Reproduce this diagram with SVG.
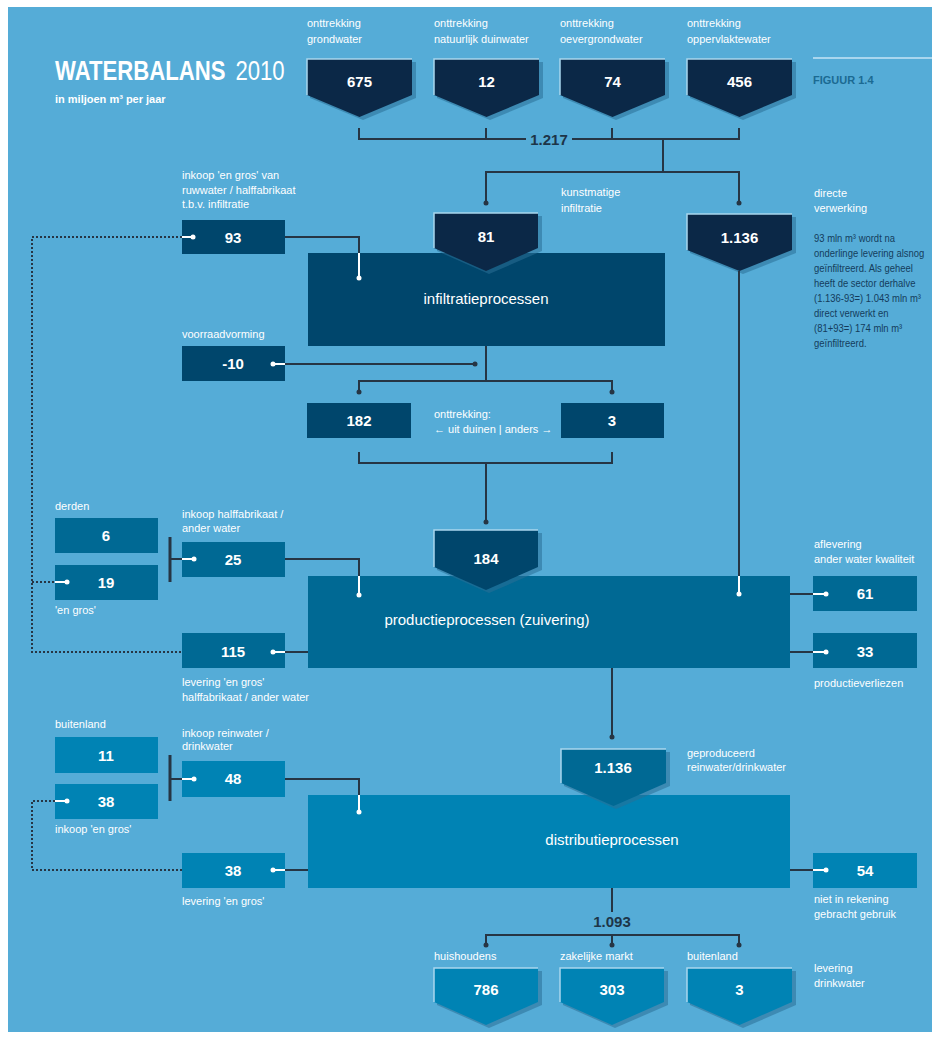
<svg xmlns="http://www.w3.org/2000/svg" width="932" height="1039" viewBox="0 0 932 1039">
<defs>
<style>
.t{font-family:"Liberation Sans Narrow","Liberation Sans",Arial,sans-serif;}
.lbl{font-family:"Liberation Sans Narrow","Liberation Sans",Arial,sans-serif;font-size:11px;fill:#ffffff;}
.par{font-family:"Liberation Sans Narrow","Liberation Sans",Arial,sans-serif;font-size:11px;fill:#143c5c;}
.num{font-family:"Liberation Sans Narrow","Liberation Sans",Arial,sans-serif;font-size:15px;font-weight:bold;fill:#ffffff;text-anchor:middle;}
.proc{font-family:"Liberation Sans","Open Sans",Arial,sans-serif;font-size:15px;fill:#ffffff;text-anchor:middle;}
.navy{fill:#0b2847;}
.dk{fill:#00466c;}
.md{fill:#006994;}
.lt{fill:#0083b4;}
.sh{fill:#2a6f95;opacity:0.55;}
.hl{fill:none;stroke:#a9d6ee;stroke-width:1.5;}
.ln{fill:none;stroke:#263544;stroke-width:2;}
.wl{fill:none;stroke:#ffffff;stroke-width:2;}
.dot{fill:#263544;}
.wdot{fill:#ffffff;}
.dash{fill:none;stroke:#263544;stroke-width:2;stroke-dasharray:2 2;}
.bar{fill:none;stroke:#263544;stroke-width:3;}
</style>
</defs>
<rect x="8" y="7" width="924" height="1025" fill="#55acd7"/>

<g id="title">
<g transform="translate(55,80) scale(0.82,1)">
<text class="t" x="0" y="0" font-size="27" font-weight="bold" fill="#ffffff">WATERBALANS</text>
<text class="t" x="220" y="0" font-size="27" fill="#ffffff">2010</text>
</g>
<text class="t" x="55" y="103" font-size="11" font-weight="bold" fill="#ffffff">in miljoen m³ per jaar</text>
</g>
<g id="figuur">
<line x1="813" y1="58" x2="932" y2="58" stroke="#a9d6ee" stroke-width="2"/>
<text class="t" x="813" y="84" font-size="11" font-weight="bold" fill="#1b6a92">FIGUUR 1.4</text>
</g>

<!-- top pentagons -->
<g id="grondwater">
<text class="lbl" x="307" y="27">onttrekking</text><text class="lbl" x="307" y="43">grondwater</text>
<path class="sh" d="M310,62 H416 V98 L363,120 L310,98 Z"/>
<path class="navy" d="M307,59 H412 V95 L359.5,117 L307,95 Z"/>
<path class="hl" d="M307,95 V59 H412"/>
<text class="num" x="359.5" y="87">675</text>
</g>
<g id="duinwater">
<text class="lbl" x="434" y="27">onttrekking</text><text class="lbl" x="434" y="43">natuurlijk duinwater</text>
<path class="sh" d="M437,62 H543 V98 L490,120 L437,98 Z"/>
<path class="navy" d="M434,59 H539 V95 L486.5,117 L434,95 Z"/>
<path class="hl" d="M434,95 V59 H539"/>
<text class="num" x="486.5" y="87">12</text>
</g>
<g id="oevergrondwater">
<text class="lbl" x="560" y="27">onttrekking</text><text class="lbl" x="560" y="43">oevergrondwater</text>
<path class="sh" d="M563,62 H669 V98 L616,120 L563,98 Z"/>
<path class="navy" d="M560,59 H665 V95 L612.5,117 L560,95 Z"/>
<path class="hl" d="M560,95 V59 H665"/>
<text class="num" x="612.5" y="87">74</text>
</g>
<g id="oppervlaktewater">
<text class="lbl" x="687" y="27">onttrekking</text><text class="lbl" x="687" y="43">oppervlaktewater</text>
<path class="sh" d="M690,62 H796 V98 L743,120 L690,98 Z"/>
<path class="navy" d="M687,59 H792 V95 L739.5,117 L687,95 Z"/>
<path class="hl" d="M687,95 V59 H792"/>
<text class="num" x="739.5" y="87">456</text>
</g>

<!-- infiltratie -->
<g id="infiltratieprocessen">
<rect class="dk" x="308" y="253" width="357" height="93"/>
<text class="proc" x="486" y="304">infiltratieprocessen</text>
</g>
<g id="kunstmatige">
<text class="lbl" x="561" y="196">kunstmatige</text><text class="lbl" x="561" y="212">infiltratie</text>
<path class="sh" d="M437,216 H542 V251 L489,274 L437,251 Z"/>
<path class="navy" d="M434,213 H538 V248 L486,271 L434,248 Z"/>
<path class="hl" d="M434,248 V213 H538"/>
<text class="num" x="486" y="242">81</text>
</g>
<g id="directe">
<text class="lbl" x="814" y="197">directe</text><text class="lbl" x="814" y="212">verwerking</text>
<path class="sh" d="M690,217 H796 V253 L743,274 L690,253 Z"/>
<path class="navy" d="M687,214 H792 V250 L739.5,271 L687,250 Z"/>
<path class="hl" d="M687,250 V214 H792"/>
<text class="num" x="739.5" y="243">1.136</text>
</g>
<g id="toelichting" transform="translate(814,0) scale(0.86,1)">
<text class="par" x="0" y="242">93 mln m³ wordt na</text>
<text class="par" x="0" y="257">onderlinge levering alsnog</text>
<text class="par" x="0" y="272">geïnfiltreerd. Als geheel</text>
<text class="par" x="0" y="287">heeft de sector derhalve</text>
<text class="par" x="0" y="302">(1.136-93=) 1.043 mln m³</text>
<text class="par" x="0" y="317">direct verwerkt en</text>
<text class="par" x="0" y="332">(81+93=) 174 mln m³</text>
<text class="par" x="0" y="347">geïnfiltreerd.</text>
</g>
<g id="inkoop93">
<text class="lbl" x="182" y="179">inkoop 'en gros' van</text>
<text class="lbl" x="182" y="194">ruwwater / halffabrikaat</text>
<text class="lbl" x="182" y="208">t.b.v. infiltratie</text>
<rect class="dk" x="182" y="220" width="103" height="34"/>
<text class="num" x="233" y="243">93</text>
</g>
<g id="voorraad">
<text class="lbl" x="182" y="338">voorraadvorming</text>
<rect class="dk" x="182" y="346" width="103" height="35"/>
<text class="num" x="233" y="369">-10</text>
</g>
<g id="duinen182">
<rect class="dk" x="307" y="403" width="104" height="35"/>
<text class="num" x="359" y="426">182</text>
</g>
<g id="anders3">
<rect class="dk" x="561" y="403" width="103" height="35"/>
<text class="num" x="612" y="426">3</text>
</g>
<g id="onttrekking-label">
<text class="lbl" x="434" y="418">onttrekking:</text>
<text class="lbl" x="434" y="433">← uit duinen | anders →</text>
</g>

<!-- productie -->
<g id="productieprocessen">
<rect class="md" x="308" y="576" width="482" height="92"/>
<text class="proc" x="487" y="625">productieprocessen (zuivering)</text>
</g>
<g id="p184">
<path class="sh" d="M437,533 H542 V570 L489,593 L437,570 Z"/>
<path class="dk" d="M434,530 H538 V567 L486,590 L434,567 Z"/>
<path class="hl" d="M434,567 V530 H538"/>
<text class="num" x="486" y="564">184</text>
</g>
<g id="derden">
<text class="lbl" x="55" y="510">derden</text>
<rect class="md" x="55" y="518" width="103" height="35"/>
<text class="num" x="106" y="541">6</text>
</g>
<g id="engros19">
<rect class="md" x="55" y="565" width="103" height="35"/>
<text class="num" x="106" y="588">19</text>
<text class="lbl" x="55" y="614">'en gros'</text>
</g>
<g id="inkoop25">
<text class="lbl" x="182" y="518">inkoop halffabrikaat /</text>
<text class="lbl" x="182" y="532">ander water</text>
<rect class="md" x="182" y="542" width="103" height="35"/>
<text class="num" x="233" y="565">25</text>
</g>
<g id="levering115">
<rect class="md" x="182" y="633" width="103" height="35"/>
<text class="num" x="233" y="657">115</text>
<text class="lbl" x="182" y="686">levering 'en gros'</text>
<text class="lbl" x="182" y="701">halffabrikaat / ander water</text>
</g>
<g id="aflevering61">
<text class="lbl" x="814" y="548">aflevering</text>
<text class="lbl" x="814" y="563">ander water kwaliteit</text>
<rect class="md" x="813" y="576" width="104" height="35"/>
<text class="num" x="865" y="599">61</text>
</g>
<g id="verliezen33">
<rect class="md" x="813" y="633" width="104" height="35"/>
<text class="num" x="865" y="657">33</text>
<text class="lbl" x="814" y="687">productieverliezen</text>
</g>

<!-- distributie -->
<g id="distributieprocessen">
<rect class="lt" x="308" y="795" width="482" height="93"/>
<text class="proc" x="612" y="845">distributieprocessen</text>
</g>
<g id="geproduceerd">
<text class="lbl" x="687" y="757">geproduceerd</text>
<text class="lbl" x="687" y="771">reinwater/drinkwater</text>
<path class="sh" d="M564,752 H670 V786 L616,809 L564,786 Z"/>
<path class="md" d="M561,749 H666 V783 L613.5,806 L561,783 Z"/>
<path class="hl" d="M561,783 V749 H666"/>
<text class="num" x="613" y="773">1.136</text>
</g>
<g id="buitenland11">
<text class="lbl" x="55" y="728">buitenland</text>
<rect class="lt" x="55" y="737" width="103" height="36"/>
<text class="num" x="106" y="761">11</text>
</g>
<g id="inkoop38">
<rect class="lt" x="55" y="784" width="103" height="35"/>
<text class="num" x="106" y="807">38</text>
<text class="lbl" x="55" y="833">inkoop 'en gros'</text>
</g>
<g id="inkoop48">
<text class="lbl" x="182" y="737">inkoop reinwater /</text>
<text class="lbl" x="182" y="750">drinkwater</text>
<rect class="lt" x="182" y="761" width="103" height="36"/>
<text class="num" x="233" y="784">48</text>
</g>
<g id="levering38">
<rect class="lt" x="182" y="853" width="103" height="35"/>
<text class="num" x="233" y="876">38</text>
<text class="lbl" x="182" y="905">levering 'en gros'</text>
</g>
<g id="niet54">
<rect class="lt" x="813" y="853" width="104" height="35"/>
<text class="num" x="865" y="876">54</text>
<text class="lbl" x="814" y="903">niet in rekening</text>
<text class="lbl" x="814" y="918">gebracht gebruik</text>
</g>

<!-- bottom -->
<g id="huishoudens">
<text class="lbl" x="434" y="960">huishoudens</text>
<path class="sh" d="M437,971 H542 V1005 L489,1028 L437,1005 Z"/>
<path class="lt" d="M434,968 H538 V1002 L486,1025 L434,1002 Z"/>
<path class="hl" d="M434,1002 V968 H538"/>
<text class="num" x="486" y="995">786</text>
</g>
<g id="zakelijk">
<text class="lbl" x="560" y="960">zakelijke markt</text>
<path class="sh" d="M563,971 H668 V1005 L615,1028 L563,1005 Z"/>
<path class="lt" d="M560,968 H664 V1002 L612,1025 L560,1002 Z"/>
<path class="hl" d="M560,1002 V968 H664"/>
<text class="num" x="612" y="995">303</text>
</g>
<g id="buitenland3">
<text class="lbl" x="687" y="960">buitenland</text>
<path class="sh" d="M690,971 H796 V1005 L743,1028 L690,1005 Z"/>
<path class="lt" d="M687,968 H792 V1002 L739.5,1025 L687,1002 Z"/>
<path class="hl" d="M687,1002 V968 H792"/>
<text class="num" x="739.5" y="995">3</text>
</g>
<g id="levering-drinkwater">
<text class="lbl" x="814" y="972">levering</text>
<text class="lbl" x="814" y="987">drinkwater</text>
</g>

<!-- connectors -->
<g id="connectors">
<path class="ln" d="M359,128 V139 H526 M572,139 H739 V128 M486,128 V139 M612,128 V139"/>
<text class="t" x="549" y="145" font-size="15" font-weight="bold" fill="#1d3548" text-anchor="middle">1.217</text>
<path class="ln" d="M663,139 V172 M486,203 V172 H739 V203"/>
<circle class="dot" cx="486" cy="203" r="2.5"/><circle class="dot" cx="739" cy="203" r="2.5"/>
<path class="ln" d="M739,271 V576"/>
<path class="wl" d="M739,576 V594"/><circle class="wdot" cx="739" cy="594" r="2.5"/>
<path class="ln" d="M285,237 H359 V253"/>
<path class="wl" d="M359,253 V278"/><circle class="wdot" cx="359" cy="278" r="2.5"/>
<path class="dash" d="M182,237 H32 V652 H182 M32,582 H55"/>
<path class="wl" d="M182,237 H193"/><circle class="wdot" cx="193" cy="237" r="2.5"/>
<path class="wl" d="M55,582 H67"/><circle class="wdot" cx="67" cy="582" r="2.5"/>
<path class="ln" d="M486,346 V381 M359,392 V381 H612 V392"/>
<circle class="dot" cx="359" cy="392" r="2.5"/><circle class="dot" cx="612" cy="392" r="2.5"/>
<path class="ln" d="M285,364 H475"/><circle class="dot" cx="475" cy="364" r="2.5"/>
<path class="wl" d="M273,364 H285"/><circle class="wdot" cx="273" cy="364" r="2.5"/>
<path class="ln" d="M359,452 V463 H612 V452 M486,463 V522"/><circle class="dot" cx="486" cy="522" r="2.5"/>
<path class="bar" d="M170,537 V582"/>
<path class="ln" d="M170,559 H182"/>
<path class="wl" d="M182,559 H194"/><circle class="wdot" cx="194" cy="559" r="2.5"/>
<path class="ln" d="M285,559 H359 V576"/>
<path class="wl" d="M359,576 V595"/><circle class="wdot" cx="359" cy="595" r="2.5"/>
<path class="ln" d="M285,652 H308"/>
<path class="wl" d="M273,652 H285"/><circle class="wdot" cx="273" cy="652" r="2.5"/>
<path class="ln" d="M790,594 H813 M790,652 H813"/>
<path class="wl" d="M813,594 H826 M813,652 H826"/>
<circle class="wdot" cx="826" cy="594" r="2.5"/><circle class="wdot" cx="826" cy="652" r="2.5"/>
<path class="ln" d="M612,668 V737"/><circle class="dot" cx="612" cy="737" r="2.5"/>
<path class="bar" d="M170,755 V801"/>
<path class="ln" d="M170,779 H182"/>
<path class="wl" d="M182,779 H194"/><circle class="wdot" cx="194" cy="779" r="2.5"/>
<path class="ln" d="M285,779 H359 V795"/>
<path class="wl" d="M359,795 V812"/><circle class="wdot" cx="359" cy="812" r="2.5"/>
<path class="ln" d="M285,870 H308"/>
<path class="wl" d="M273,870 H285"/><circle class="wdot" cx="273" cy="870" r="2.5"/>
<path class="dash" d="M182,870 H32 V801 H55"/>
<path class="wl" d="M55,801 H67"/><circle class="wdot" cx="67" cy="801" r="2.5"/>
<path class="ln" d="M790,870 H813"/>
<path class="wl" d="M813,870 H826"/><circle class="wdot" cx="826" cy="870" r="2.5"/>
<path class="ln" d="M612,888 V912"/>
<text class="t" x="612" y="927" font-size="15" font-weight="bold" fill="#1d3548" text-anchor="middle">1.093</text>
<path class="ln" d="M486,945 V935 H739 V945 M612,935 V945"/>
<circle class="dot" cx="486" cy="945" r="2.5"/><circle class="dot" cx="612" cy="945" r="2.5"/><circle class="dot" cx="739" cy="945" r="2.5"/>
</g>
</svg>
